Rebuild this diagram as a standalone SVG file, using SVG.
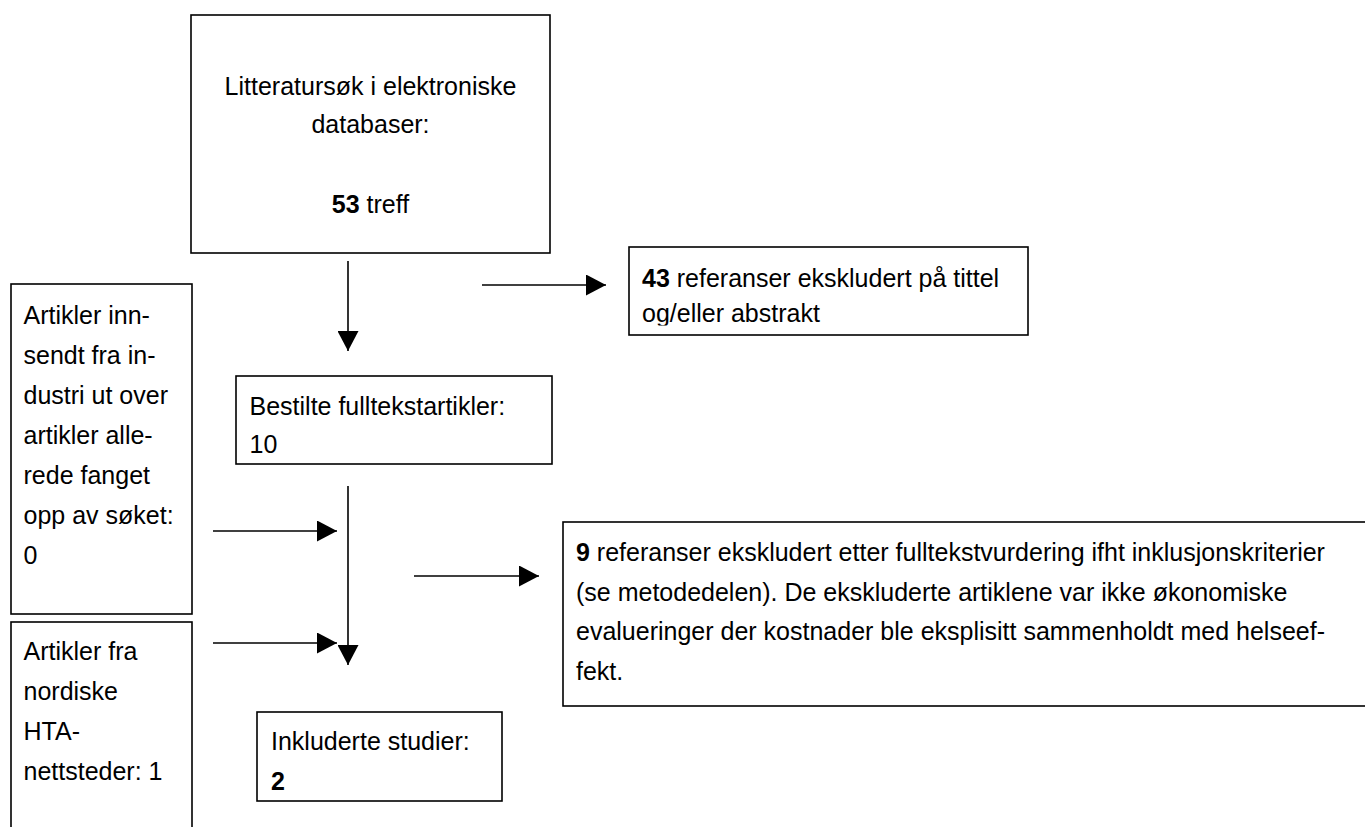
<svg xmlns="http://www.w3.org/2000/svg" width="1365" height="827" viewBox="0 0 1365 827">
<style>
  .box { fill: #ffffff; stroke: #000000; stroke-width: 1.6; }
  .t { font-family: "Liberation Sans", Arial, sans-serif; font-size: 25px; fill: #000000; }
  .b { font-weight: bold; }
  .c { text-anchor: middle; }
  .conn { stroke: #000000; stroke-width: 1.6; fill: none; marker-end: url(#arrow); }
</style>
<defs>
  <marker id="arrow" markerUnits="userSpaceOnUse" markerWidth="20" markerHeight="21" refX="20" refY="10.5" orient="auto">
    <path d="M0,0 L20,10.5 L0,21 Z" fill="#000000"/>
  </marker>
  <clipPath id="clip43">
    <rect x="629" y="247" width="399" height="78.5"/>
  </clipPath>
</defs>
<rect width="1365" height="827" fill="#ffffff"/>

<g id="search">
  <rect class="box" x="191" y="15" width="359" height="238"/>
  <text class="t c" x="370.5" y="95">Litteratursøk i elektroniske</text>
  <text class="t c" x="370.5" y="133">databaser:</text>
  <text class="t c" x="370.5" y="213"><tspan class="b">53</tspan> treff</text>
</g>

<g id="excluded43">
  <rect class="box" x="629" y="247" width="399" height="88"/>
  <g clip-path="url(#clip43)">
    <text class="t" x="642" y="287"><tspan class="b">43</tspan> referanser ekskludert på tittel</text>
    <text class="t" x="642" y="322">og/eller abstrakt</text>
  </g>
</g>

<g id="fulltext">
  <rect class="box" x="236" y="376" width="316" height="88"/>
  <text class="t" x="249.5" y="415">Bestilte fulltekstartikler:</text>
  <text class="t" x="249.5" y="453">10</text>
</g>

<g id="industry">
  <rect class="box" x="11" y="284" width="181" height="330"/>
  <text class="t" x="23.5" y="323.5">Artikler inn-</text>
  <text class="t" x="23.5" y="363.5">sendt fra in-</text>
  <text class="t" x="23.5" y="403.5">dustri ut over</text>
  <text class="t" x="23.5" y="443.5">artikler alle-</text>
  <text class="t" x="23.5" y="483.5">rede fanget</text>
  <text class="t" x="23.5" y="523.5">opp av søket:</text>
  <text class="t" x="23.5" y="563.5">0</text>
</g>

<g id="nordic">
  <rect class="box" x="11" y="622" width="181" height="220"/>
  <text class="t" x="23.5" y="660">Artikler fra</text>
  <text class="t" x="23.5" y="700">nordiske</text>
  <text class="t" x="23.5" y="740">HTA-</text>
  <text class="t" x="23.5" y="780">nettsteder: 1</text>
</g>

<g id="excluded9">
  <rect class="box" x="563" y="522" width="806" height="184"/>
  <text class="t" x="576" y="561"><tspan class="b">9</tspan> referanser ekskludert etter fulltekstvurdering ifht inklusjonskriterier</text>
  <text class="t" x="576" y="601">(se metodedelen). De ekskluderte artiklene var ikke økonomiske</text>
  <text class="t" x="576" y="640">evalueringer der kostnader ble eksplisitt sammenholdt med helseef-</text>
  <text class="t" x="576" y="680">fekt.</text>
</g>

<g id="included">
  <rect class="box" x="257" y="712" width="245" height="89"/>
  <text class="t" x="271" y="750">Inkluderte studier:</text>
  <text class="t b" x="271" y="790">2</text>
</g>

<g id="connectors">
  <line class="conn" x1="348" y1="261" x2="348" y2="351"/>
  <line class="conn" x1="482" y1="285" x2="606" y2="285"/>
  <line class="conn" x1="348" y1="486" x2="348" y2="665"/>
  <line class="conn" x1="213" y1="531" x2="337" y2="531"/>
  <line class="conn" x1="213" y1="643" x2="337" y2="643"/>
  <line class="conn" x1="414" y1="576" x2="539" y2="576"/>
</g>
</svg>
